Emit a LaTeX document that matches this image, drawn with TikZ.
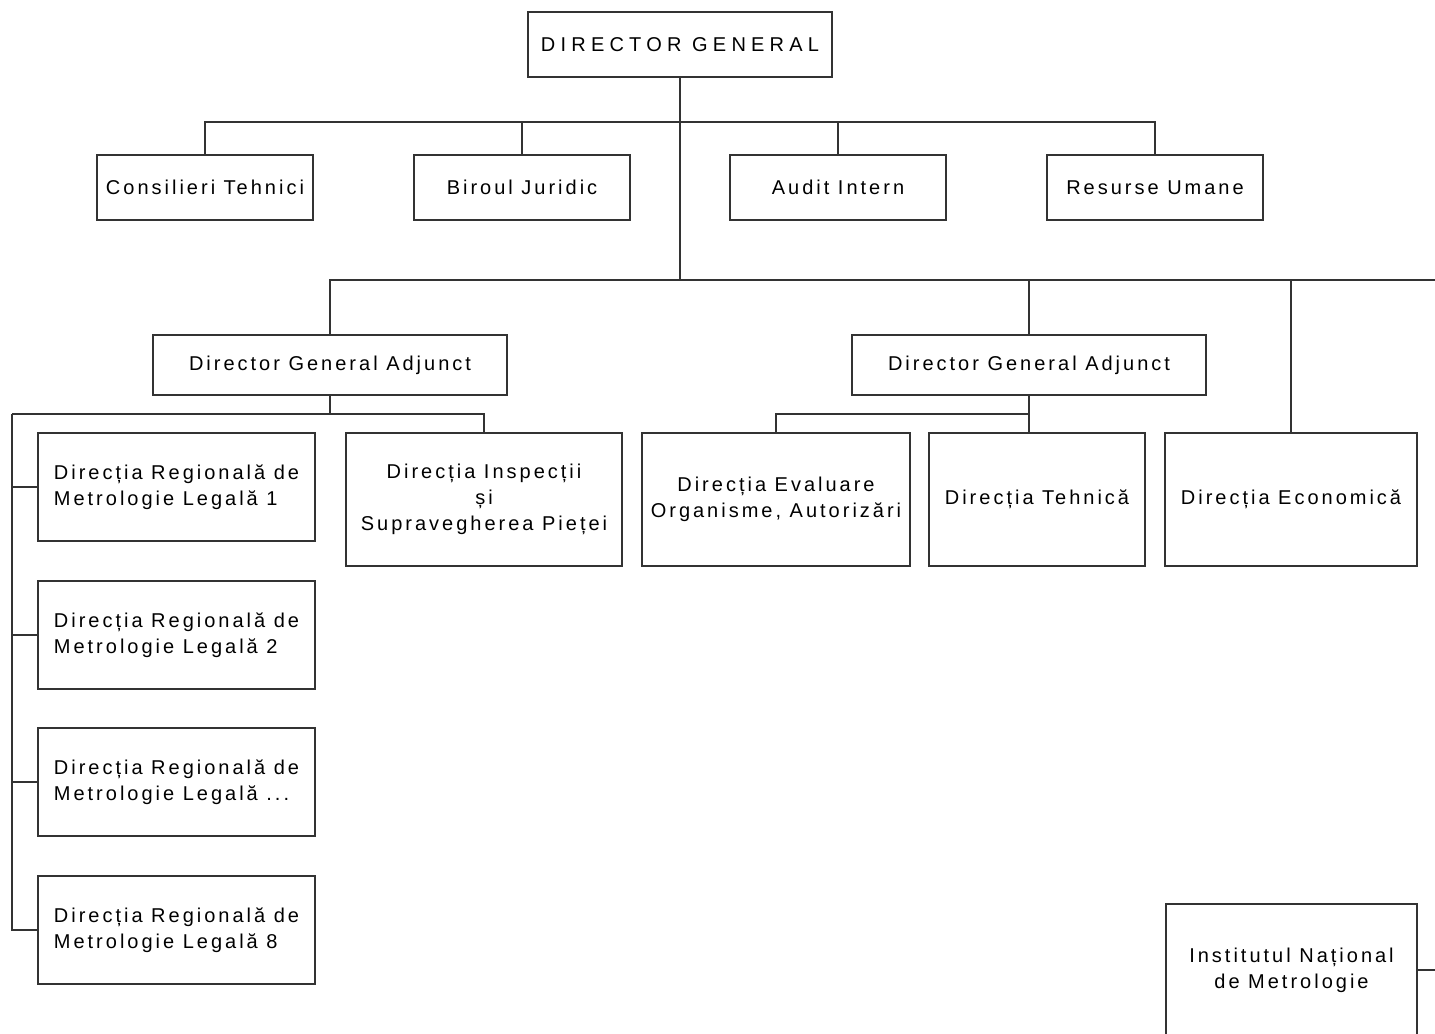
\documentclass[tikz,border=0pt]{standalone}
\usepackage{fontspec}
\setmainfont{Liberation Sans}[LetterSpace=15]
\newfontfamily\titlefont{Liberation Sans}[LetterSpace=26]
\usepackage{tikz}

\begin{document}
\begin{tikzpicture}[x=0.75pt,y=0.75pt,yscale=-1,xscale=1,
  box/.style={draw=black!80,line width=0.9pt,inner sep=0.75pt,outer sep=0pt,align=center,font=\fontsize{15}{19.5}\selectfont},
  sz/.style 2 args={minimum width=#1*0.75pt,minimum height=#2*0.75pt},
  wire/.style={draw=black!80,line width=0.9pt}]

\useasboundingbox (0,0) rectangle (1435,1034);
\clip (0,0) rectangle (1435,1034);

\node[box,sz={304}{65}] (dg) at (680,44.5) {\titlefont DIRECTOR GENERAL};

\node[box,sz={216}{65}] (ct) at (205,187.5) {Consilieri Tehnici};
\node[box,sz={216}{65}] (bj) at (522,187.5) {Biroul Juridic};
\node[box,sz={216}{65}] (ai) at (838,187.5) {Audit Intern};
\node[box,sz={216}{65}] (ru) at (1155,187.5) {Resurse Umane};

\node[box,sz={354}{60}] (dga1) at (330,365) {Director General Adjunct};
\node[box,sz={354}{60}] (dga2) at (1029,365) {Director General Adjunct};

\node[box,sz={277}{108},align=left] (dr1) at (176.5,487) {Direcția Regională de\\Metrologie Legală 1};
\node[box,sz={277}{108},align=left] (dr2) at (176.5,635) {Direcția Regională de\\Metrologie Legală 2};
\node[box,sz={277}{108},align=left] (dr3) at (176.5,782) {Direcția Regională de\\Metrologie Legală ...};
\node[box,sz={277}{108},align=left] (dr4) at (176.5,930) {Direcția Regională de\\Metrologie Legală 8};

\node[box,sz={276}{133}] (dis) at (484,499.5) {Direcția Inspecții\\și\\Supravegherea Pieței};
\node[box,sz={268}{133}] (dev) at (776,499.5) {Direcția Evaluare\\Organisme, Autorizări};
\node[box,sz={216}{133}] (dt) at (1037,499.5) {Direcția Tehnică};
\node[box,sz={252}{133}] (de) at (1291,499.5) {Direcția Economică};

\node[box,sz={251}{132}] (inm) at (1291.5,970) {Institutul Național\\de Metrologie};

\coordinate (bus1) at (680,122);
\coordinate (bus2) at (1435,280);
\coordinate (spine) at (12,414);
\coordinate (bus3) at (1029,414);
\coordinate (edge3) at (1435,970);

\draw[wire] (dg.south) -- (dg.south |- bus2);
\draw[wire] (ct.north) |- (bus1) -| (ru.north);
\draw[wire] (bj.north) -- (bj.north |- bus1);
\draw[wire] (ai.north) -- (ai.north |- bus1);

\draw[wire] (dga1.north) |- (bus2);
\draw[wire] (dga2.north) -- (dga2.north |- bus2);
\draw[wire] (de.north) -- (de.north |- bus2);

\draw[wire] (dga1.south) -- (dga1.south |- spine);
\draw[wire] (spine) -| (dis.north);
\draw[wire] (spine) |- (dr4.west);
\draw[wire] (dr1.west) -- (dr1.west -| spine);
\draw[wire] (dr2.west) -- (dr2.west -| spine);
\draw[wire] (dr3.west) -- (dr3.west -| spine);

\draw[wire] (dga2.south) -- (dga2.south |- dt.north);
\draw[wire] (bus3) -| (dev.north);

\draw[wire] (inm.east) -- (edge3);

\end{tikzpicture}
\end{document}
